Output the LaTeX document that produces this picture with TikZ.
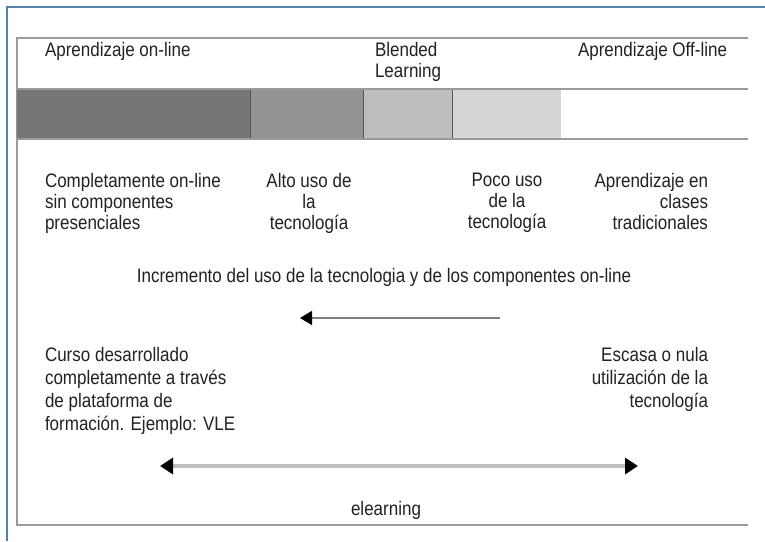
\documentclass[tikz,border=0pt]{standalone}
\usepackage{fontspec}
\setmainfont{Liberation Sans}
\usetikzlibrary{arrows.meta}
\definecolor{frameblue}{HTML}{4F81BD}
\definecolor{rulegray}{HTML}{9A9A9A}
\definecolor{segA}{HTML}{767676}
\definecolor{segB}{HTML}{939393}
\definecolor{segC}{HTML}{BEBEBE}
\definecolor{segD}{HTML}{D6D6D6}
\definecolor{segline}{HTML}{555555}
\definecolor{txtcol}{HTML}{222222}
\begin{document}
\begin{tikzpicture}[x=1pt,y=-1pt,
  txt/.style={inner sep=0pt, outer sep=0pt, text=txtcol, yscale=1.15,
    font=\fontsize{17}{18.3}\selectfont},
  txtB/.style={txt, font=\fontsize{17}{20}\selectfont},
  seg/.style={draw=segline, line width=0.8pt},
  arr/.style={-{Triangle[length=12pt,width=14pt,color=black]}, draw=gray, line width=1.6pt},
  darr/.style={{Triangle[length=13pt,width=16pt,color=black]}-{Triangle[length=13pt,width=16pt,color=black]}, draw=segC, line width=4pt}
]
\useasboundingbox (0,0) rectangle (765,541);
\fill[white] (0,0) rectangle (765,541);
% blue outer frame
\draw[frameblue, line width=2.5pt] (7,541) -- (7,7) -- (765,7);
% grey inner frame (open on the right)
\draw[rulegray, line width=1.5pt] (748,38) -- (17,38) -- (17,525) -- (748,525);
% bar
\fill[segA] (17,89) rectangle (250,139);
\fill[segB] (250,89) rectangle (363,139);
\fill[segC] (363,89) rectangle (452,139);
\fill[segD] (452,89) rectangle (561,139);
\draw[seg] (250,89) -- (250,139);
\draw[seg] (363,89) -- (363,139);
\draw[seg] (452,89) -- (452,139);
\draw[rulegray, line width=1.5pt] (17,89) -- (748,89);
\draw[rulegray, line width=1.5pt] (17,139) -- (748,139);
% header
\node[txt, anchor=north west] (online) at (45,42) {Aprendizaje on-line};
\node[txt, anchor=north west, align=left] (blended) at (375,42) {Blended\\Learning};
\node[txt, anchor=north west] (offline) at (578,42) {Aprendizaje Off-line};
% row 2
\node[txt, anchor=north west, align=left] (compl) at (45,173) {Completamente on-line\\sin componentes\\presenciales};
\node[txt, anchor=north, align=center] (alto) at (309,173) {Alto uso de\\la\\tecnología};
\node[txt, anchor=north, align=center] (poco) at (507,173) {Poco uso\\de la\\tecnología};
\node[txt, anchor=north east, align=right] (clases) at (708,173) {Aprendizaje en\\clases\\tradicionales};
% middle
\node[txt] (incr) at (384,277) {Incremento del uso de la tecnologia y de los componentes on-line};
\coordinate (a1s) at (500,318);
\coordinate (a1e) at (300,318);
\draw[arr] (a1s) -- (a1e);
% row 3
\node[txtB, anchor=north west, align=left] (curso) at (45,347) {Curso desarrollado\\completamente a través\\de plataforma de\\formación. Ejemplo: VLE};
\node[txtB, anchor=north east, align=right] (escasa) at (708,347) {Escasa o nula\\utilización de la\\tecnología};
\coordinate (a2s) at (160,466);
\coordinate (a2e) at (638,466);
\draw[darr] (a2s) -- (a2e);
\node[txt] (elearn) at (386,510) {elearning};
\end{tikzpicture}
\end{document}
